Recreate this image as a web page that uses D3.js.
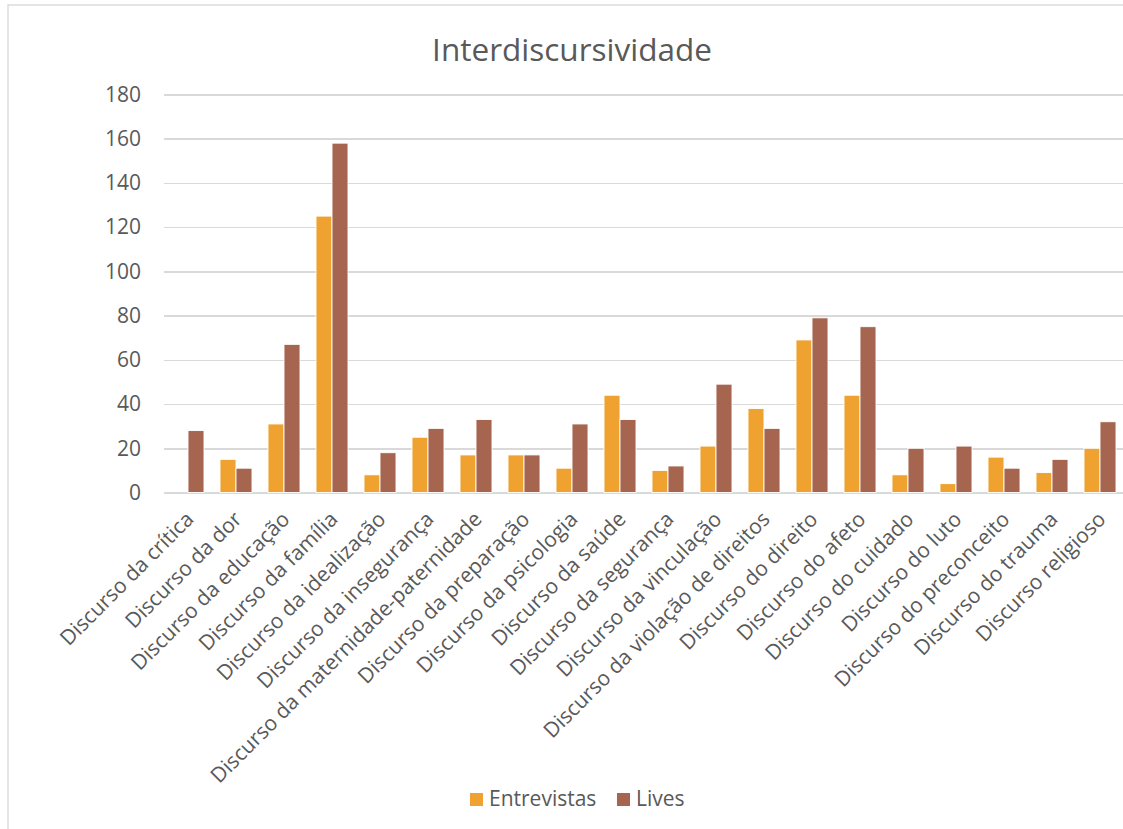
<!DOCTYPE html>
<html>
<head>
<meta charset="utf-8">
<script src="https://cdn.jsdelivr.net/npm/d3@7"></script>
<style>
  html, body { margin: 0; padding: 0; background: #fff; }
  svg { display: block; }
  text { font-family: "Open Sans", "Noto Sans", sans-serif; fill: #595959; }
</style>
</head>
<body>
<svg id="chart" width="1123" height="829"></svg>
<script>
// Categories of discourse identified in the corpus
const categories = [
  "Discurso da crítica", "Discurso da dor", "Discurso da educação", "Discurso da família",
  "Discurso da idealização", "Discurso da insegurança", "Discurso da maternidade-paternidade",
  "Discurso da preparação", "Discurso da psicologia", "Discurso da saúde", "Discurso da segurança",
  "Discurso da vinculação", "Discurso da violação de direitos", "Discurso do direito",
  "Discurso do afeto", "Discurso do cuidado", "Discurso do luto", "Discurso do preconceito",
  "Discurso do trauma", "Discurso religioso"
];
// Occurrences per source
const entrevistas = [0, 15, 31, 125, 8, 25, 17, 17, 11, 44, 10, 21, 38, 69, 44, 8, 4, 16, 9, 20];
const lives       = [28, 11, 67, 158, 18, 29, 33, 17, 31, 33, 12, 49, 29, 79, 75, 20, 21, 11, 15, 32];
const seriesNames = ["Entrevistas", "Lives"];
const yTicks = [0, 20, 40, 60, 80, 100, 120, 140, 160, 180];
const title = "Interdiscursividade";

const colors = ["#EFA22F", "#A5654E"];
const gridColor = "#d9d9d9";

const svg = d3.select("#chart");

// Chart frame
svg.append("rect")
  .attr("x", 8).attr("y", 5)
  .attr("width", 1130).attr("height", 840)
  .attr("fill", "none").attr("stroke", gridColor).attr("stroke-width", 1.4);

const plot = { left: 164, right: 1124, top: 94.5, bottom: 492.5 };

const x = d3.scaleBand().domain(categories).range([plot.left, plot.right]).paddingInner(0).paddingOuter(0);
const y = d3.scaleLinear().domain([0, 180]).range([plot.bottom, plot.top]);
const inner = d3.scaleBand().domain(seriesNames).range([0, x.bandwidth()]).paddingInner(0).paddingOuter(0.5);

// Title
svg.append("text")
  .attr("x", 572).attr("y", 61)
  .attr("text-anchor", "middle")
  .style("font-size", "31.5px")
  .text(title);

// Horizontal gridlines and y tick labels
const yAxis = d3.axisLeft(y).tickValues(yTicks).tickSize(-(plot.right - plot.left)).tickPadding(23);
const gy = svg.append("g").attr("transform", `translate(${plot.left},0)`).call(yAxis);
gy.select(".domain").remove();
gy.selectAll(".tick line").attr("stroke", gridColor).attr("stroke-width", 1.5).attr("shape-rendering", "crispEdges");
gy.selectAll(".tick text")
  .attr("fill", "#595959")
  .style("font-size", "21px")
  .style("font-family", "'Open Sans', sans-serif");

// Bars
const rows = categories.map((c, i) => ({ c, vals: [entrevistas[i], lives[i]] }));
const groups = svg.append("g").selectAll("g").data(rows).join("g")
  .attr("transform", d => `translate(${x(d.c)},0)`);
groups.selectAll("rect")
  .data(d => d.vals.map((v, k) => ({ k, v })))
  .join("rect")
  .attr("x", d => inner(seriesNames[d.k]))
  .attr("width", inner.bandwidth())
  .attr("y", d => y(d.v))
  .attr("height", d => y(0) - y(d.v))
  .attr("fill", d => colors[d.k])
  .attr("stroke", "#fff")
  .attr("stroke-width", 0.9);

// Category labels, rotated 45°
const gx = svg.append("g");
gx.selectAll("text").data(categories).join("text")
  .attr("transform", d => `translate(${x(d) + x.bandwidth() / 2 + 3},${plot.bottom + 24}) rotate(-45)`)
  .attr("text-anchor", "end")
  .attr("dominant-baseline", "middle")
  .style("font-size", "21px")
  .text(d => d);

// Legend
const legend = svg.append("g");
const legendItems = [
  { name: seriesNames[0], color: colors[0], x: 470 },
  { name: seriesNames[1], color: colors[1], x: 617 }
];
legendItems.forEach(it => {
  legend.append("rect").attr("x", it.x).attr("y", 793).attr("width", 13).attr("height", 13).attr("fill", it.color);
  legend.append("text").attr("x", it.x + 19).attr("y", 800).attr("dominant-baseline", "middle")
    .style("font-size", "21px").text(it.name);
});
</script>
</body>
</html>
